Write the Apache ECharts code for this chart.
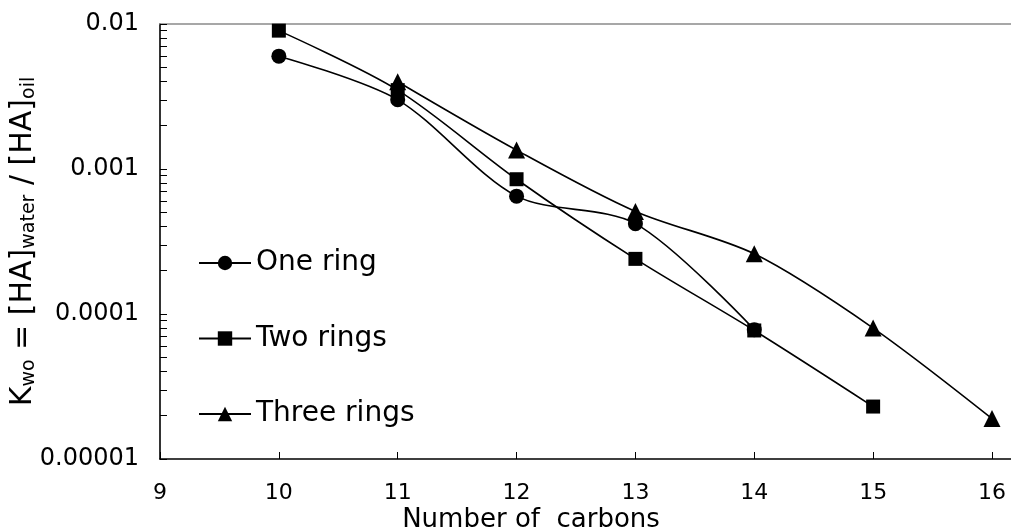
<!DOCTYPE html>
<html>
<head>
<meta charset="utf-8">
<script src="https://cdn.jsdelivr.net/npm/echarts@6/dist/echarts.min.js"></script>
<style>
  html, body { margin: 0; padding: 0; background: #fff; }
  #chart { width: 1011px; height: 530px; }
</style>
</head>
<body>
<div id="chart"></div>
<script>
// Water/oil partition coefficient against chain length
const carbons = [10, 11, 12, 13, 14, 15, 16];
const oneRing = [0.006, 0.003, 0.00065, 0.00042, 0.000078, null, null];
const twoRings = [0.009, 0.0035, 0.00085, 0.00024, 0.000077, 0.000023, null];
const threeRings = [null, 0.004, 0.00135, 0.00051, 0.00026, 0.00008, 0.000019];

const seriesNames = ['One ring', 'Two rings', 'Three rings'];
const xTickValues = [9, 10, 11, 12, 13, 14, 15, 16];
const yTickValues = [0.00001, 0.0001, 0.001, 0.01];
const yTickLabels = ['0.00001', '0.0001', '0.001', '0.01'];

// minor ticks at 2..9 within each decade
const yMinorTicks = [];
for (let d = 0; d < yTickValues.length - 1; d++) {
  for (let k = 1; k <= 9; k++) yMinorTicks.push(+(yTickValues[d] * k).toPrecision(3));
}
yMinorTicks.push(yTickValues[yTickValues.length - 1]);

const FONT = 'DejaVu Sans';
const pairs = vals => carbons.map((c, i) => [c, vals[i]]).filter(p => p[1] != null);

const lineStyle = { color: '#000', width: 1.6 };
function makeSeries(name, vals, symbol, size) {
  return {
    name: name,
    type: 'line',
    data: pairs(vals),
    smooth: 0.3,
    symbol: symbol,
    symbolSize: size,
    showSymbol: true,
    lineStyle: lineStyle,
    itemStyle: { color: '#000', borderWidth: 0 },
    emphasis: { disabled: true },
    animation: false,
    z: 3
  };
}

const chart = echarts.init(document.getElementById('chart'));
chart.setOption({
  backgroundColor: '#fff',
  animation: false,
  grid: { left: 160, right: 0, top: 24, bottom: 71, containLabel: false, outerBoundsMode: 'none' },
  legend: {
    orient: 'vertical',
    left: 193,
    top: 241,
    itemWidth: 52,
    itemHeight: 18,
    itemGap: 41.5,
    data: seriesNames,
    textStyle: { fontFamily: FONT, fontSize: 28, color: '#000', lineHeight: 34 }
  },
  xAxis: [{
    type: 'value',
    min: 9,
    max: 16.16,
    interval: 1,
    name: 'Number of  carbons',
    nameLocation: 'middle',
    nameGap: 48,
    nameMoveOverlap: false,
    nameTextStyle: { fontFamily: FONT, fontSize: 26, color: '#000', padding: [0, 109, 0, 0] },
    axisLine: { show: true, lineStyle: { color: '#000', width: 1.6 } },
    axisTick: { show: true, inside: true, length: 7, customValues: xTickValues, lineStyle: { color: '#000', width: 1 } },
    axisLabel: { customValues: xTickValues, fontFamily: FONT, fontSize: 22, color: '#000', margin: 23 },
    splitLine: { show: false }
  }, {
    type: 'value',
    position: 'top',
    min: 9,
    max: 16.16,
    axisLine: { show: true, lineStyle: { color: '#8a8a8a', width: 1.6 } },
    axisTick: { show: false },
    axisLabel: { show: false },
    splitLine: { show: false }
  }],
  yAxis: {
    type: 'log',
    logBase: 10,
    min: 0.00001,
    max: 0.01,
    name: '{m|K}{s|wo}{m| = [HA]}{s|water}{m| / [HA]}{s|oil}',
    nameLocation: 'middle',
    nameGap: 121,
    nameMoveOverlap: false,
    nameTextStyle: {
      fontFamily: FONT, color: '#000',
      rich: {
        m: { fontFamily: FONT, fontSize: 30, lineHeight: 32, color: '#000' },
        s: { fontFamily: FONT, fontSize: 19, lineHeight: 16, color: '#000', verticalAlign: 'bottom' }
      }
    },
    axisLine: { show: true, lineStyle: { color: '#000', width: 1.6 } },
    axisTick: { show: true, inside: true, length: 7, customValues: yMinorTicks, lineStyle: { color: '#000', width: 1 } },
    axisLabel: {
      customValues: yTickValues,
      fontFamily: FONT, fontSize: 24, color: '#000', margin: 21,
      formatter: v => {
        const i = yTickValues.findIndex(t => Math.abs(Math.log10(t) - Math.log10(v)) < 1e-6);
        return i >= 0 ? yTickLabels[i] : '';
      }
    },
    splitLine: { show: false },
    minorTick: { show: false }
  },
  series: [
    makeSeries(seriesNames[0], oneRing, 'circle', 15),
    makeSeries(seriesNames[1], twoRings, 'rect', 14),
    makeSeries(seriesNames[2], threeRings, 'triangle', 17)
  ]
});
</script>
</body>
</html>
